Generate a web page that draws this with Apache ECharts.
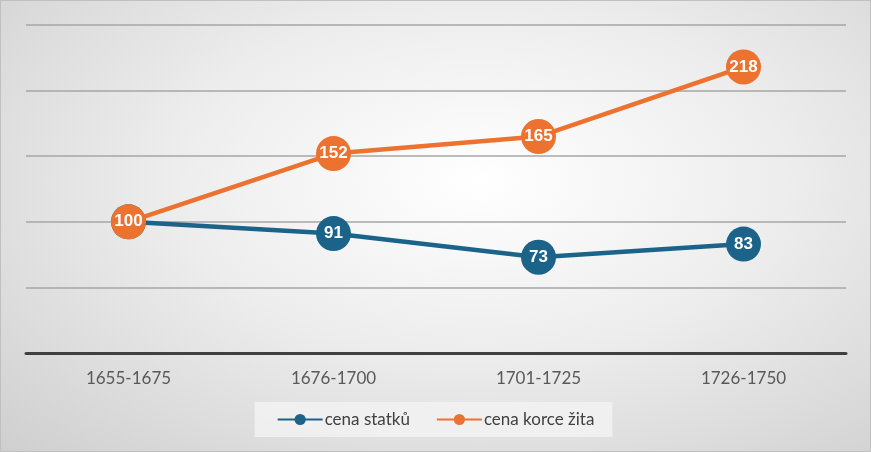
<!DOCTYPE html>
<html><head><meta charset="utf-8">
<script src="https://cdn.jsdelivr.net/npm/echarts@6/dist/echarts.min.js"></script>
<style>
html,body{margin:0;padding:0;}
#c{width:871px;height:452px;background:radial-gradient(ellipse at 55% 40%, #ffffff 0%, #ededed 45%, #cfcfcf 100%);box-sizing:border-box;border:1px solid #c0c0c0;}
</style></head><body>
<div id="c"></div>
<script>
const categories = ['1655-1675','1676-1700','1701-1725','1726-1750'];
const cenaStatku = [100, 91, 73, 83];
const cenaKorceZita = [100, 152, 165, 218];
const seriesNames = ['cena statků','cena korce žita'];
const colors = ['#1B6389','#EC7230'];

const chart = echarts.init(document.getElementById('c'));
function mk(name, data, color, z){
  return {
    name, type:'line', data, z,
    symbol:'circle', symbolSize:35,
    itemStyle:{color:color},
    lineStyle:{color:color,width:4.5},
    label:{show:true,position:'inside',color:'#fff',fontWeight:'bold',fontSize:17,fontFamily:'Liberation Sans'},
    emphasis:{disabled:true}
  };
}
chart.setOption({
  backgroundColor:'transparent',
  animation:false,
  color:colors,
  grid:{left:25,right:24,top:24,bottom:98,containLabel:false},
  xAxis:{type:'category',data:categories,boundaryGap:true,
    axisLine:{lineStyle:{color:'#404040',width:3}},
    axisTick:{show:false},
    axisLabel:{color:'#595959',fontSize:17,fontFamily:'Lato',margin:17}},
  yAxis:{type:'value',min:0,max:250,interval:50,
    axisLabel:{show:false},axisLine:{show:false},axisTick:{show:false},
    splitLine:{lineStyle:{color:'#a6a6a6',width:1.5}}},
  legend:{bottom:14,left:'center',itemWidth:45,itemHeight:14,itemGap:26,
    backgroundColor:'rgba(242,242,242,0.85)',padding:[9,18,9,22],
    textStyle:{color:'#404040',fontSize:17,fontFamily:'Lato',padding:[0,0,0,-3]},
    data:seriesNames},
  series:[mk(seriesNames[0],cenaStatku,colors[0],2), mk(seriesNames[1],cenaKorceZita,colors[1],3)]
});
</script></body></html>
